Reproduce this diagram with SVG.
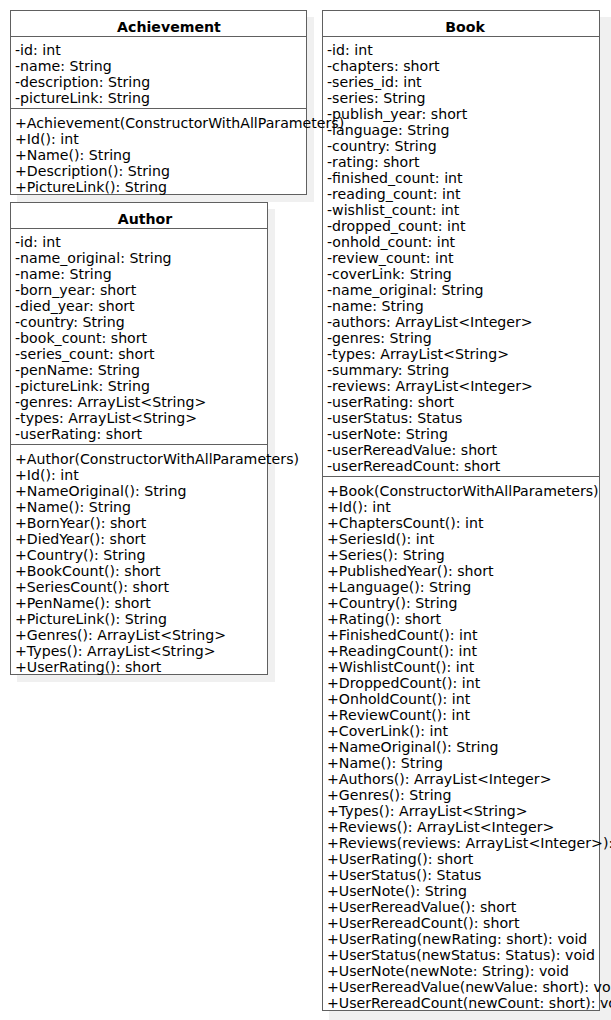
<svg xmlns="http://www.w3.org/2000/svg" width="611" height="1020" viewBox="0 0 611 1020">
<style>
.bg{fill:#ffffff}
.sh{fill:#f0f0f0}
.box{fill:#ffffff;stroke:#606060;stroke-width:1}
.sep{stroke:#606060;stroke-width:1}
.t{font-family:"DejaVu Sans",sans-serif;font-size:14.15px;fill:#000}
.h{font-family:"DejaVu Sans",sans-serif;font-size:14.15px;font-weight:bold;fill:#000;text-anchor:middle}
</style>
<rect class="bg" x="0" y="0" width="611" height="1020"/>
<g id="connectors"/>
<g id="Book">
<rect class="sh" x="329" y="17" width="282" height="1003"/>
<rect class="box" x="322.5" y="10.5" width="277" height="1000"/>
<line class="sep" x1="322.5" y1="36.5" x2="599.5" y2="36.5"/>
<line class="sep" x1="322.5" y1="476.5" x2="599.5" y2="476.5"/>
<g transform="translate(0,1)">
<text class="h" x="465" y="31">Book</text>
<text class="t" x="327" y="54">-id: int</text>
<text class="t" x="327" y="70">-chapters: short</text>
<text class="t" x="327" y="86">-series_id: int</text>
<text class="t" x="327" y="102">-series: String</text>
<text class="t" x="327" y="118">-publish_year: short</text>
<text class="t" x="327" y="134">-language: String</text>
<text class="t" x="327" y="150">-country: String</text>
<text class="t" x="327" y="166">-rating: short</text>
<text class="t" x="327" y="182">-finished_count: int</text>
<text class="t" x="327" y="198">-reading_count: int</text>
<text class="t" x="327" y="214">-wishlist_count: int</text>
<text class="t" x="327" y="230">-dropped_count: int</text>
<text class="t" x="327" y="246">-onhold_count: int</text>
<text class="t" x="327" y="262">-review_count: int</text>
<text class="t" x="327" y="278">-coverLink: String</text>
<text class="t" x="327" y="294">-name_original: String</text>
<text class="t" x="327" y="310">-name: String</text>
<text class="t" x="327" y="326">-authors: ArrayList&lt;Integer&gt;</text>
<text class="t" x="327" y="342">-genres: String</text>
<text class="t" x="327" y="358">-types: ArrayList&lt;String&gt;</text>
<text class="t" x="327" y="374">-summary: String</text>
<text class="t" x="327" y="390">-reviews: ArrayList&lt;Integer&gt;</text>
<text class="t" x="327" y="406">-userRating: short</text>
<text class="t" x="327" y="422">-userStatus: Status</text>
<text class="t" x="327" y="438">-userNote: String</text>
<text class="t" x="327" y="454">-userRereadValue: short</text>
<text class="t" x="327" y="470">-userRereadCount: short</text>
<text class="t" x="327" y="495">+Book(ConstructorWithAllParameters)</text>
<text class="t" x="327" y="511">+Id(): int</text>
<text class="t" x="327" y="527">+ChaptersCount(): int</text>
<text class="t" x="327" y="543">+SeriesId(): int</text>
<text class="t" x="327" y="559">+Series(): String</text>
<text class="t" x="327" y="575">+PublishedYear(): short</text>
<text class="t" x="327" y="591">+Language(): String</text>
<text class="t" x="327" y="607">+Country(): String</text>
<text class="t" x="327" y="623">+Rating(): short</text>
<text class="t" x="327" y="639">+FinishedCount(): int</text>
<text class="t" x="327" y="655">+ReadingCount(): int</text>
<text class="t" x="327" y="671">+WishlistCount(): int</text>
<text class="t" x="327" y="687">+DroppedCount(): int</text>
<text class="t" x="327" y="703">+OnholdCount(): int</text>
<text class="t" x="327" y="719">+ReviewCount(): int</text>
<text class="t" x="327" y="735">+CoverLink(): int</text>
<text class="t" x="327" y="751">+NameOriginal(): String</text>
<text class="t" x="327" y="767">+Name(): String</text>
<text class="t" x="327" y="783">+Authors(): ArrayList&lt;Integer&gt;</text>
<text class="t" x="327" y="799">+Genres(): String</text>
<text class="t" x="327" y="815">+Types(): ArrayList&lt;String&gt;</text>
<text class="t" x="327" y="831">+Reviews(): ArrayList&lt;Integer&gt;</text>
<text class="t" x="327" y="847">+Reviews(reviews: ArrayList&lt;Integer&gt;): void</text>
<text class="t" x="327" y="863">+UserRating(): short</text>
<text class="t" x="327" y="879">+UserStatus(): Status</text>
<text class="t" x="327" y="895">+UserNote(): String</text>
<text class="t" x="327" y="911">+UserRereadValue(): short</text>
<text class="t" x="327" y="927">+UserRereadCount(): short</text>
<text class="t" x="327" y="943">+UserRating(newRating: short): void</text>
<text class="t" x="327" y="959">+UserStatus(newStatus: Status): void</text>
<text class="t" x="327" y="975">+UserNote(newNote: String): void</text>
<text class="t" x="327" y="991">+UserRereadValue(newValue: short): void</text>
<text class="t" x="327" y="1007">+UserRereadCount(newCount: short): void</text>
</g>
</g>
<g id="Author">
<rect class="sh" x="17" y="209" width="258" height="473"/>
<rect class="box" x="10.5" y="202.5" width="257" height="472"/>
<line class="sep" x1="10.5" y1="228.5" x2="267.5" y2="228.5"/>
<line class="sep" x1="10.5" y1="444.5" x2="267.5" y2="444.5"/>
<g transform="translate(0,1)">
<text class="h" x="145" y="223">Author</text>
<text class="t" x="15" y="246">-id: int</text>
<text class="t" x="15" y="262">-name_original: String</text>
<text class="t" x="15" y="278">-name: String</text>
<text class="t" x="15" y="294">-born_year: short</text>
<text class="t" x="15" y="310">-died_year: short</text>
<text class="t" x="15" y="326">-country: String</text>
<text class="t" x="15" y="342">-book_count: short</text>
<text class="t" x="15" y="358">-series_count: short</text>
<text class="t" x="15" y="374">-penName: String</text>
<text class="t" x="15" y="390">-pictureLink: String</text>
<text class="t" x="15" y="406">-genres: ArrayList&lt;String&gt;</text>
<text class="t" x="15" y="422">-types: ArrayList&lt;String&gt;</text>
<text class="t" x="15" y="438">-userRating: short</text>
<text class="t" x="15" y="463">+Author(ConstructorWithAllParameters)</text>
<text class="t" x="15" y="479">+Id(): int</text>
<text class="t" x="15" y="495">+NameOriginal(): String</text>
<text class="t" x="15" y="511">+Name(): String</text>
<text class="t" x="15" y="527">+BornYear(): short</text>
<text class="t" x="15" y="543">+DiedYear(): short</text>
<text class="t" x="15" y="559">+Country(): String</text>
<text class="t" x="15" y="575">+BookCount(): short</text>
<text class="t" x="15" y="591">+SeriesCount(): short</text>
<text class="t" x="15" y="607">+PenName(): short</text>
<text class="t" x="15" y="623">+PictureLink(): String</text>
<text class="t" x="15" y="639">+Genres(): ArrayList&lt;String&gt;</text>
<text class="t" x="15" y="655">+Types(): ArrayList&lt;String&gt;</text>
<text class="t" x="15" y="671">+UserRating(): short</text>
</g>
</g>
<g id="Achievement">
<rect class="sh" x="17" y="17" width="297" height="185"/>
<rect class="box" x="10.5" y="10.5" width="296" height="184"/>
<line class="sep" x1="10.5" y1="36.5" x2="306.5" y2="36.5"/>
<line class="sep" x1="10.5" y1="108.5" x2="306.5" y2="108.5"/>
<g transform="translate(0,1)">
<text class="h" x="169" y="31">Achievement</text>
<text class="t" x="15" y="54">-id: int</text>
<text class="t" x="15" y="70">-name: String</text>
<text class="t" x="15" y="86">-description: String</text>
<text class="t" x="15" y="102">-pictureLink: String</text>
<text class="t" x="15" y="127">+Achievement(ConstructorWithAllParameters)</text>
<text class="t" x="15" y="143">+Id(): int</text>
<text class="t" x="15" y="159">+Name(): String</text>
<text class="t" x="15" y="175">+Description(): String</text>
<text class="t" x="15" y="191">+PictureLink(): String</text>
</g>
</g>
</svg>
